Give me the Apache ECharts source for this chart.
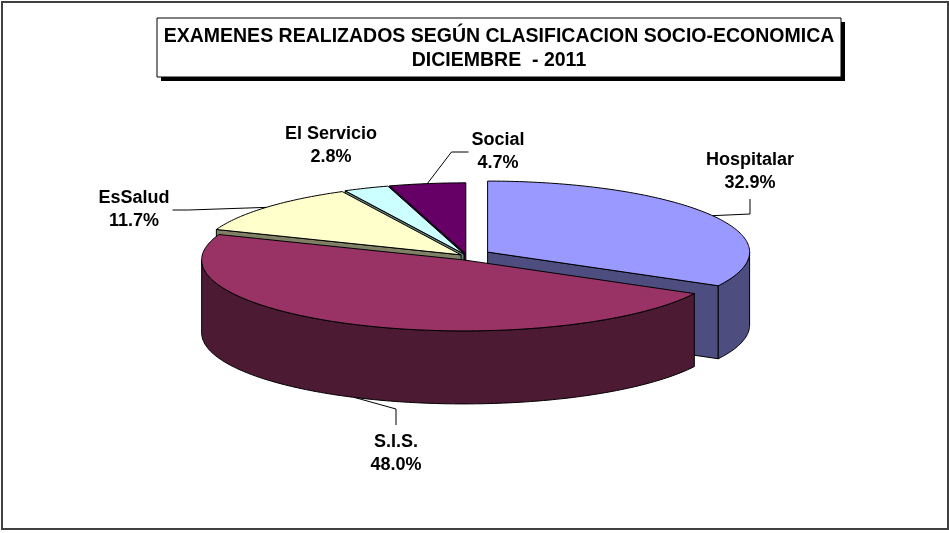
<!DOCTYPE html>
<html>
<head>
<meta charset="utf-8" />
<title>Examenes realizados según clasificación socio-económica</title>
<script src="https://cdn.jsdelivr.net/npm/echarts@6.0.0/dist/echarts.min.js"></script>
</head>
<body style="margin:0;background:#fff">
<div id="main" style="width:949px;height:533px;"></div>
<script type="text/javascript">
// datos del grafico
var categorias = ['Hospitalar', 'S.I.S.', 'EsSalud', 'El Servicio', 'Social'];
var porcentajes = [32.9, 48.0, 11.7, 2.8, 4.7];
var titulo = ['EXAMENES REALIZADOS SEGÚN CLASIFICACION SOCIO-ECONOMICA', 'DICIEMBRE  - 2011'];

// estilo (colores de tapa y de costado, separacion de cada porcion)
var colorTapa = ['#9999FF', '#993366', '#FFFFCC', '#CCFFFF', '#660066'];
var colorLado = ['#4D4D80', '#4D1A33', '#808066', '#668080', '#330033'];
var separacion = [24, 8, 8, 8, 8];
// centro de cada etiqueta y lado por donde llega la linea guia
var posEtiqueta = [[750, 172], [396, 454], [134, 210], [331, 146], [498, 152]];
var ladoGuia = ['bottom', 'top', 'right', 'none', 'left'];

// geometria del pastel 3D
var cx = 467, cy = 257, rx = 262, ry = 71, alto = 73, inclinaSep = 0.4;
var fuente = 'bold 18px "Liberation Sans", Arial, sans-serif';

var total = porcentajes.reduce(function (a, b) { return a + b; }, 0);
var inicio = [];
var acum = 0;
for (var i = 0; i < porcentajes.length; i++) {
  inicio.push(acum);
  acum += porcentajes[i] / total * 360;
}

function rad(a) { return a * Math.PI / 180; }
function punto(a, dx, dy, h) {
  return [cx + dx + rx * Math.sin(rad(a)), cy + dy - ry * Math.cos(rad(a)) + h];
}
function arco(a0, a1, dx, dy, h) {
  var pts = [];
  var n = Math.max(2, Math.ceil(a1 - a0));
  for (var k = 0; k <= n; k++) {
    pts.push(punto(a0 + (a1 - a0) * k / n, dx, dy, h));
  }
  return pts;
}

// orden de dibujo: de atras hacia adelante
var frente = porcentajes.map(function (v, i) {
  var m = inicio[i] + v / total * 180;
  return -Math.cos(rad(m));
});
var orden = frente.map(function (f, i) { return i; }).sort(function (a, b) { return frente[a] - frente[b]; });
var rango = [];
orden.forEach(function (idx, r) { rango[idx] = r; });

var ctxMedida = document.createElement('canvas').getContext('2d');
ctxMedida.font = fuente;

function renderItem(params, api) {
  var i = params.dataIndex;
  var v = api.value(0);
  var a0 = inicio[i];
  var a1 = a0 + v / total * 360;
  var m = (a0 + a1) / 2;
  var d = separacion[i];
  var dx = d * Math.sin(rad(m));
  var dy = -d * Math.cos(rad(m)) * inclinaSep;
  var base = rango[i] * 10;
  var c0 = [cx + dx, cy + dy];
  var c1 = [cx + dx, cy + dy + alto];
  var borde = { stroke: '#000', lineWidth: 1 };
  var hijos = [];

  // caras de corte visibles
  if (-Math.sin(rad(a0)) > 0.001) {
    var p = punto(a0, dx, dy, 0), q = punto(a0, dx, dy, alto);
    hijos.push({ type: 'polygon', z2: base + 1, shape: { points: [c0, p, q, c1] },
      style: Object.assign({ fill: colorLado[i] }, borde) });
  }
  if (Math.sin(rad(a1)) > 0.001) {
    var p2 = punto(a1, dx, dy, 0), q2 = punto(a1, dx, dy, alto);
    hijos.push({ type: 'polygon', z2: base + 1, shape: { points: [c0, p2, q2, c1] },
      style: Object.assign({ fill: colorLado[i] }, borde) });
  }
  // pared exterior (solo la mitad delantera)
  var w0 = Math.max(a0, 90), w1 = Math.min(a1, 270);
  if (w1 > w0) {
    var arriba = arco(w0, w1, dx, dy, 0);
    var abajo = arco(w0, w1, dx, dy, alto).reverse();
    hijos.push({ type: 'polygon', z2: base + 2, shape: { points: arriba.concat(abajo) },
      style: Object.assign({ fill: colorLado[i] }, borde) });
  }
  // tapa
  hijos.push({ type: 'polygon', z2: base + 3, shape: { points: [c0].concat(arco(a0, a1, dx, dy, 0)) },
    style: Object.assign({ fill: colorTapa[i] }, borde) });

  // etiqueta
  var lx = posEtiqueta[i][0], ly = posEtiqueta[i][1];
  var texto = categorias[i] + '\n' + v.toFixed(1) + '%';
  hijos.push({ type: 'text', z2: 200, style: {
    text: texto, x: lx, y: ly, align: 'center', verticalAlign: 'middle',
    font: fuente, lineHeight: 23, fill: '#000'
  } });

  // linea guia
  var lado = ladoGuia[i];
  if (lado !== 'none') {
    var ancla = (m > 90 && m < 270) ? punto(m, dx, dy, alto) : punto(m, dx, dy, 0);
    var semi = Math.max(ctxMedida.measureText(categorias[i]).width,
      ctxMedida.measureText(v.toFixed(1) + '%').width) / 2;
    var fin, codo;
    if (lado === 'bottom') { fin = [lx, ly + 27]; codo = [lx, ly + 42]; }
    else if (lado === 'top') { fin = [lx, ly - 29]; codo = [lx, ly - 45]; }
    else if (lado === 'left') { fin = [lx - semi - 3, ly]; codo = [lx - semi - 20, ly]; }
    else { fin = [lx + semi + 3, ly]; codo = [lx + semi + 19, ly]; }
    hijos.push({ type: 'polyline', z2: 199, shape: { points: [ancla, codo, fin] },
      style: { stroke: '#000', lineWidth: 1, fill: null } });
  }
  return { type: 'group', children: hijos };
}

var chart = echarts.init(document.getElementById('main'));
var option = {
  backgroundColor: '#fff',
  animation: false,
  graphic: [
    { type: 'rect', shape: { x: 2, y: 2, width: 946, height: 527 },
      style: { fill: null, stroke: '#404040', lineWidth: 2 } },
    { type: 'rect', shape: { x: 161, y: 22, width: 684, height: 59 }, style: { fill: '#000' } },
    { type: 'rect', shape: { x: 157, y: 18, width: 684, height: 59 },
      style: { fill: '#fff', stroke: '#000', lineWidth: 1 } },
    { type: 'text', style: { text: titulo.join('\n'), x: 499, y: 49, align: 'center', verticalAlign: 'middle',
      font: 'bold 19.5px "Liberation Sans", Arial, sans-serif', lineHeight: 24, fill: '#000' } }
  ],
  series: [{
    type: 'custom',
    coordinateSystem: 'none',
    silent: true,
    renderItem: renderItem,
    data: porcentajes
  }]
};
chart.setOption(option);
</script>
</body>
</html>
